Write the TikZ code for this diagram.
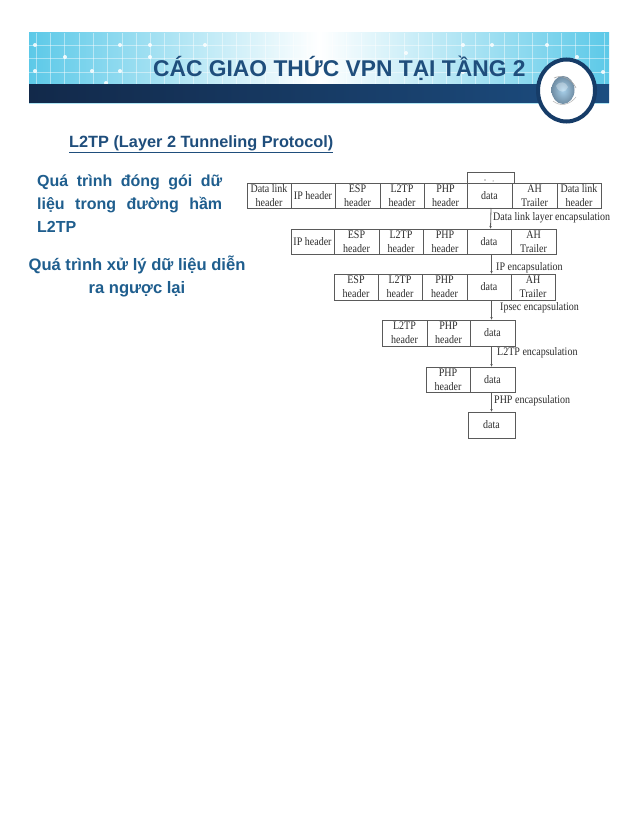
\documentclass[tikz,border=0pt]{standalone}
\usepackage{fontspec}
\setmainfont{Liberation Serif}
\newfontfamily\hdfont{Liberation Sans}
\newfontfamily\cellfont[FakeStretch=0.87]{Liberation Serif}
\definecolor{cyanbar}{HTML}{5CC9E8}
\definecolor{navyL}{HTML}{12294A}
\definecolor{navyR}{HTML}{1C4D80}
\definecolor{ringblue}{HTML}{163C68}
\definecolor{titleblue}{HTML}{1F4E7C}
\definecolor{bodyblue}{HTML}{1F5E8E}
\definecolor{cellline}{HTML}{5A5A5A}
\definecolor{celltext}{HTML}{2C2C2C}
\definecolor{globein}{HTML}{A9D2EC}
\definecolor{globeout}{HTML}{6F8CA3}
\tikzset{
  x=1pt,y=-1pt,
  cellbox/.style={draw=cellline,line width=0.9pt,inner sep=0pt,outer sep=0pt,anchor=north west,align=center,text=celltext,font=\cellfont\fontsize{11.5}{14}\selectfont},
  steplabel/.style={anchor=west,inner sep=0pt,text=celltext,font=\cellfont\fontsize{11.5}{12}\selectfont},
  flowarrow/.style={draw=cellline,line width=0.8pt,-{Latex[length=3pt,width=2.5pt]}},
  gridline/.style={white,line width=0.6pt,opacity=0.45},
  griddot/.style={white,opacity=0.85},
  bodytext/.style={anchor=north west,inner sep=0pt,text=bodyblue,font=\hdfont\bfseries\fontsize{16}{23}\selectfont},
}
\usetikzlibrary{arrows.meta}
\newcommand{\cellnode}[6]{\node[cellbox,minimum width={(#3-#2)*1pt},minimum height={(#5-#4)*1pt}] (#1) at (#2,#4) {#6};}
\begin{document}
\begin{tikzpicture}
\useasboundingbox (0,0) rectangle (638,826);
\fill[white] (0,0) rectangle (638,826);
% banner
\shade[left color=cyanbar,right color=cyanbar,middle color=white] (29,33) rectangle (609,85);
\foreach \gx in {36,50.3,...,320}{\draw[gridline] (\gx,33) -- (\gx,85);}
\foreach \gx in {604,589.7,...,320}{\draw[gridline] (\gx,33) -- (\gx,85);}
\foreach \gy in {45,58,72}{\draw[gridline] (29,\gy) -- (609,\gy);}
\foreach \dx/\dy in {35/45,65/57,35/71,92/71,120/45,150/45,150/57,120/71,205/45,106/83,463/45,492/45,547/45,577/57,603/72,492/72,463/72,406/53}{\fill[griddot] (\dx,\dy) circle[radius=2];}
\shade[left color=navyL,right color=navyR] (29,85) rectangle (609,103);
\draw[color=cyanbar!50!white,line width=0.6pt] (29,103.5) -- (609,103.5);
\node[anchor=west,inner sep=0pt,text=titleblue,font=\hdfont\bfseries\fontsize{22.8}{26}\selectfont] (title) at (153,68) {CÁC GIAO THỨC VPN TẠI TẦNG 2};
% globe emblem
\draw[fill=white,draw=ringblue,line width=4pt] (566.5,90.5) ellipse[x radius=28.5,y radius=31];
\shade[inner color=globein,outer color=globeout] (563,90) ellipse[x radius=11.5,y radius=14];
\fill[white,opacity=0.3] (556,86) .. controls (560,80) and (566,82) .. (568,87) .. controls (566,93) and (559,94) .. (556,86);
\draw[gray!70,line width=0.6pt] (554,78) .. controls (562,74) and (572,79) .. (576,88);
\draw[gray!60,line width=0.5pt] (553,101) .. controls (560,107) and (570,105) .. (576,97);
% heading
\node[anchor=west,inner sep=0pt,text=titleblue,font=\hdfont\bfseries\fontsize{16.3}{18}\selectfont] (heading) at (69,144) {\underline{L2TP (Layer 2 Tunneling Protocol)}};
% left text
\node[bodytext,text width=185pt,align=justify] (para) at (37,175) {Quá trình đóng gói dữ liệu trong đường hầm L2TP};
\node[anchor=north,inner sep=0pt,text=bodyblue,font=\hdfont\bfseries\fontsize{16.6}{23}\selectfont,align=center] (para2) at (137,256) {Quá trình xử lý dữ liệu diễn\\ra ngược lại};
% row 0 stub
\draw[draw=cellline,line width=0.9pt] (467,183) -- (467,172) -- (514,172) -- (514,183);
\fill[celltext] (485,180) circle[radius=0.7] (493,181) circle[radius=0.5];
% row 1
\cellnode{a1}{247}{291}{183}{208}{Data link\\header}
\cellnode{a2}{291}{335}{183}{208}{IP header}
\cellnode{a3}{335}{380}{183}{208}{ESP\\header}
\cellnode{a4}{380}{424}{183}{208}{L2TP\\header}
\cellnode{a5}{424}{467}{183}{208}{PHP\\header}
\cellnode{a6}{467}{512}{183}{208}{data}
\cellnode{a7}{512}{557}{183}{208}{AH\\Trailer}
\cellnode{a8}{557}{601}{183}{208}{Data link\\header}
% row 2
\cellnode{b2}{291}{334}{229}{254}{IP header}
\cellnode{b3}{334}{379}{229}{254}{ESP\\header}
\cellnode{b4}{379}{423}{229}{254}{L2TP\\header}
\cellnode{b5}{423}{467}{229}{254}{PHP\\header}
\cellnode{b6}{467}{511}{229}{254}{data}
\cellnode{b7}{511}{556}{229}{254}{AH\\Trailer}
% row 3
\cellnode{c3}{334}{378}{274}{300}{ESP\\header}
\cellnode{c4}{378}{422}{274}{300}{L2TP\\header}
\cellnode{c5}{422}{467}{274}{300}{PHP\\header}
\cellnode{c6}{467}{511}{274}{300}{data}
\cellnode{c7}{511}{555}{274}{300}{AH\\Trailer}
% row 4
\cellnode{d4}{382}{427}{320}{346}{L2TP\\header}
\cellnode{d5}{427}{470}{320}{346}{PHP\\header}
\cellnode{d6}{470}{515}{320}{346}{data}
% row 5
\cellnode{e5}{426}{470}{367}{392}{PHP\\header}
\cellnode{e6}{470}{515}{367}{392}{data}
% row 6
\cellnode{f6}{468}{515}{412}{438}{data}
% arrows
\draw[flowarrow] ([xshift=1.5pt]a6.south) -- ([xshift=1.5pt]b6.north);
\draw[flowarrow] ([xshift=2.5pt]b6.south) -- ([xshift=2.5pt]c6.north);
\draw[flowarrow] ([xshift=2.5pt]c6.south) -- ([xshift=-1pt]d6.north);
\draw[flowarrow] ([xshift=-1pt]d6.south) -- ([xshift=-1pt]e6.north);
\draw[flowarrow] ([xshift=-1pt]e6.south) -- ([xshift=0pt]f6.north);
% labels
\node[steplabel] (l1) at (493,218) {Data link layer encapsulation};
\node[steplabel] (l2) at (496,268) {IP encapsulation};
\node[steplabel] (l3) at (500,308) {Ipsec encapsulation};
\node[steplabel] (l4) at (497,353) {L2TP encapsulation};
\node[steplabel] (l5) at (494,401) {PHP encapsulation};
\end{tikzpicture}
\end{document}
